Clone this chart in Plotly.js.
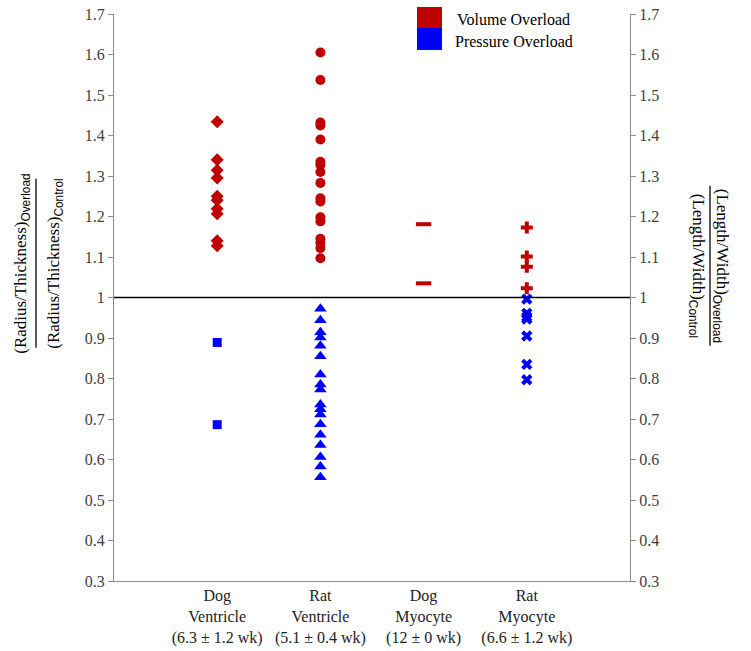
<!DOCTYPE html>
<html>
<head>
<meta charset="utf-8">
<script src="https://cdn.plot.ly/plotly-3.0.1.min.js"></script>
<style>html,body{margin:0;padding:0;background:#fff;}#chart{width:751px;height:651px;}</style>
</head>
<body>
<div id="chart"></div>
<script>
// Categories
const categories = ["Dog Ventricle", "Rat Ventricle", "Dog Myocyte", "Rat Myocyte"];
const categoryLabels = ["Dog<br>Ventricle<br>(6.3 ± 1.2 wk)", "Rat<br>Ventricle<br>(5.1 ± 0.4 wk)", "Dog<br>Myocyte<br>(12 ± 0 wk)", "Rat<br>Myocyte<br>(6.6 ± 1.2 wk)"];

// Volume overload (red)
const dogVentricleVolume = [1.434, 1.340, 1.314, 1.295, 1.250, 1.240, 1.219, 1.207, 1.140, 1.128];
const ratVentricleVolume = [1.605, 1.537, 1.432, 1.425, 1.390, 1.335, 1.327, 1.310, 1.283, 1.245, 1.237, 1.198, 1.188, 1.145, 1.135, 1.122, 1.097];
const dogMyocyteVolume = [1.181, 1.035];
const ratMyocyteVolume = [1.173, 1.101, 1.076, 1.023];

// Pressure overload (blue)
const dogVentriclePressure = [0.889, 0.686];
const ratVentriclePressure = [0.972, 0.944, 0.914, 0.901, 0.881, 0.855, 0.810, 0.785, 0.773, 0.736, 0.724, 0.711, 0.687, 0.661, 0.636, 0.606, 0.583, 0.556];
const ratMyocytePressure = [0.996, 0.961, 0.952, 0.947, 0.905, 0.835, 0.797];

// Y ticks
const yTickVals = [0.3, 0.4, 0.5, 0.6, 0.7, 0.8, 0.9, 1.0, 1.1, 1.2, 1.3, 1.4, 1.5, 1.6, 1.7];
const yTickText = ["0.3", "0.4", "0.5", "0.6", "0.7", "0.8", "0.9", "1", "1.1", "1.2", "1.3", "1.4", "1.5", "1.6", "1.7"];

const legendLabels = ["Volume Overload", "Pressure Overload"];

const RED = "#C00000", BLUE = "#0000FF";
const rep = (c, arr) => arr.map(() => c);

function tr(cat, vals, color, symbol, size, yaxis, lineMarker) {
  const m = {color: color, symbol: symbol, size: size};
  if (lineMarker) m.line = {color: color, width: 4};
  else m.line = {width: 0};
  return {type: "scatter", mode: "markers", x: rep(cat, vals), y: vals, marker: m,
    yaxis: yaxis, showlegend: false, hoverinfo: "y", cliponaxis: false};
}

const data = [
  tr(categories[0], dogVentricleVolume, RED, "diamond", 10, "y"),
  tr(categories[0], dogVentriclePressure, BLUE, "square", 9, "y"),
  tr(categories[1], ratVentricleVolume, RED, "circle", 10, "y"),
  tr(categories[1], ratVentriclePressure, BLUE, "triangle-up", 11, "y"),
  tr(categories[2], dogMyocyteVolume, RED, "line-ew", 11, "y2", true),
  tr(categories[3], ratMyocyteVolume, RED, "cross", 10, "y2"),
  tr(categories[3], ratMyocytePressure, BLUE, "x", 10, "y2")
];

const serif = "Liberation Serif";
const L = 114, R = 630, T = 14, B = 581.5;
const px = v => (v - L) / (R - L);
const py = v => (B - v) / (B - T);

const yCommon = {
  range: [0.3, 1.7], tickvals: yTickVals, ticktext: yTickText,
  showgrid: false, zeroline: false, showline: true, linecolor: "#8c8c8c", linewidth: 1,
  ticks: "outside", ticklen: 5, tickcolor: "#8c8c8c",
  tickfont: {family: serif, size: 16, color: "#404040"}, fixedrange: true
};

const subStyle = 'font-family:Liberation Sans';
const layout = {
  width: 751, height: 651,
  margin: {l: L, r: 751 - R, t: T, b: 651 - B},
  paper_bgcolor: "#fff", plot_bgcolor: "#fff",
  font: {family: serif},
  showlegend: false,
  xaxis: {
    type: "category", categoryorder: "array", categoryarray: categories,
    range: [-1, 4], tickvals: categories, ticktext: categoryLabels,
    showgrid: false, zeroline: false, showline: true, linecolor: "#8c8c8c", linewidth: 1,
    ticks: "", tickfont: {family: serif, size: 16, color: "#222"}, fixedrange: true
  },
  yaxis: Object.assign({}, yCommon, {side: "left"}),
  yaxis2: Object.assign({}, yCommon, {side: "right", overlaying: "y", anchor: "x"}),
  shapes: [
    {type: "line", xref: "paper", yref: "y", x0: 0, x1: 1, y0: 1, y1: 1, line: {color: "#000", width: 1.5}},
    // legend swatches
    {type: "rect", xref: "paper", yref: "paper", x0: px(417), x1: px(442), y0: py(28), y1: py(7), fillcolor: RED, line: {width: 0}},
    {type: "rect", xref: "paper", yref: "paper", x0: px(417), x1: px(442), y0: py(50), y1: py(28), fillcolor: BLUE, line: {width: 0}},
    // fraction bars
    {type: "line", xref: "paper", yref: "paper", x0: px(36), x1: px(36), y0: py(179), y1: py(348), line: {color: "#000", width: 1.3}},
    {type: "line", xref: "paper", yref: "paper", x0: px(710), x1: px(710), y0: py(186), y1: py(346), line: {color: "#000", width: 1.3}}
  ],
  annotations: [
    {xref: "paper", yref: "paper", x: px(455), y: py(20), xanchor: "left", yanchor: "middle", showarrow: false,
      text: legendLabels[0], font: {family: serif, size: 16, color: "#000"}},
    {xref: "paper", yref: "paper", x: px(453), y: py(42), xanchor: "left", yanchor: "middle", showarrow: false,
      text: legendLabels[1], font: {family: serif, size: 16, color: "#000"}},
    {xref: "paper", yref: "paper", x: px(22), y: py(264), xanchor: "center", yanchor: "middle", showarrow: false, textangle: -90,
      text: '(Radius/Thickness)<sub><span style="' + subStyle + '">Overload</span></sub>', font: {family: serif, size: 17, color: "#000"}},
    {xref: "paper", yref: "paper", x: px(55), y: py(264), xanchor: "center", yanchor: "middle", showarrow: false, textangle: -90,
      text: '(Radius/Thickness)<sub><span style="' + subStyle + '">Control</span></sub>', font: {family: serif, size: 17, color: "#000"}},
    {xref: "paper", yref: "paper", x: px(721), y: py(266), xanchor: "center", yanchor: "middle", showarrow: false, textangle: 90,
      text: '(Length/Width)<sub><span style="' + subStyle + '">Overload</span></sub>', font: {family: serif, size: 17, color: "#000"}},
    {xref: "paper", yref: "paper", x: px(697), y: py(266), xanchor: "center", yanchor: "middle", showarrow: false, textangle: 90,
      text: '(Length/Width)<sub><span style="' + subStyle + '">Control</span></sub>', font: {family: serif, size: 17, color: "#000"}}
  ]
};

Plotly.newPlot("chart", data, layout, {displayModeBar: false, staticPlot: true});
</script>
</body>
</html>
